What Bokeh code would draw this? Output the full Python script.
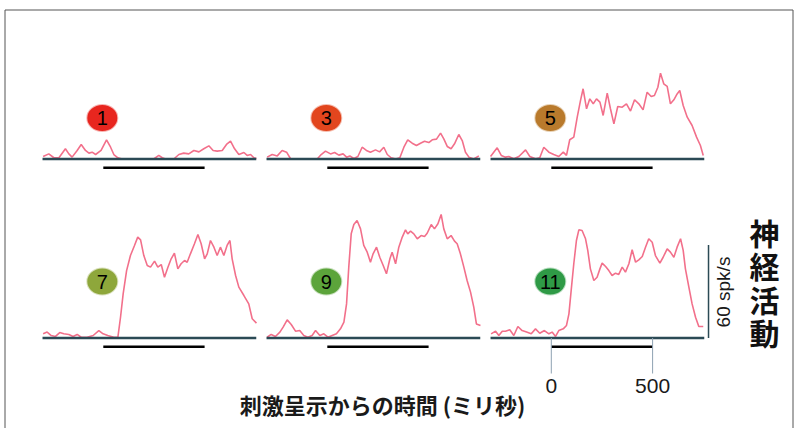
import math
from bokeh.plotting import figure
from bokeh.models import Range1d, ColumnDataSource
from bokeh.core.properties import value
from bokeh.embed import file_html
from bokeh.resources import INLINE

# ---------------- data ----------------
panel_labels = ["1", "3", "5", "7", "9", "11"]
panel_colors = ["#e8261f", "#e2461e", "#b97a2c", "#8ea73b", "#5ca43b", "#2f9a46"]

t1 = [-297, -269, -244, -219, -187, -170, -154, -129, -109, -88, -71, -55, -38, -11, 16, 36, 52, 72, 93,
      249, 274, 291, 307, 348, 373, 397, 422, 447, 472, 496, 521, 542, 562, 587, 608, 628, 648, 669, 694,
      710, 727, 743, 756]
v1 = [1.6, 3.3, 0.8, 0.8, 6.6, 3.3, 1.2, 5.5, 9.4, 5.5, 3.8, 4.4, 2.9, 5.5, 12.4, 7.6, 2.9, 0.8, 0,
      0, 2.3, 0.8, 0, 0, 2.9, 3.8, 3.3, 5.5, 4.6, 6.6, 8.5, 5.5, 5.1, 5.5, 9.4, 11.5, 6.6, 2.9, 4.2,
      2.3, 2.9, 0.8, 0.3]

t3 = [-297, -272, -247, -223, -201, -182, -165, -50, -30, -9, 16, 36, 57, 78, 95, 111, 131, 151, 172,
      193, 213, 238, 258, 279, 296, 315, 337, 358, 378, 397, 419, 440, 460, 480, 501, 518, 539, 559, 575,
      592, 611, 628, 649, 666, 682, 699, 723, 748]
v3 = [1.2, 2.9, 2.0, 5.5, 4.4, 0.3, 0, 0, 2.9, 5.1, 3.3, 4.2, 2.5, 3.3, 1.2, 2.0, 0.3, 1.6, 7.6,
      5.5, 4.4, 5.9, 4.6, 7.6, 2.9, 0.8, 0, 0.8, 7.6, 12.4, 10.2, 8.7, 10.2, 11.5, 10.6, 12.4, 12.8, 16.7, 13.0,
      8.1, 6.6, 9.8, 15.8, 11.9, 4.4, 1.2, 0, 2.0]

t5 = [-300, -267, -247, -226, -210, -185, -160, -127, -106, -78, -57, -37, -12, 12, 37, 59, 75, 91, 111,
      128, 144, 157, 174, 190, 207, 223, 240, 256, 276, 292, 309, 328, 350, 371, 391, 411, 432, 453, 473,
      493, 509, 526, 539, 555, 572, 588, 605, 621, 634, 651, 671, 695, 717, 736, 750]
v5 = [1.6, 7.2, 2.3, 1.2, 1.6, 0.1, 1.6, 5.9, 1.6, 0.1, 0.8, 7.6, 4.4, 2.9, 1.6, 4.4, 2.3, 12.4, 14.1,
      27.0, 37.7, 45.3, 32.4, 38.8, 35.6, 38.8, 36.7, 28.1, 42.5, 32.4, 22.7, 33.9, 33.4, 35.6, 30.9, 38.2, 35.6, 31.7, 43.1,
      40.3, 41.0, 46.3, 55.4, 48.5, 46.8, 35.6, 38.2, 42.0, 44.2, 34.5, 27.0, 21.6, 14.1, 8.7, 2.3]

t7 = [-297, -277, -257, -236, -215, -195, -170, -149, -129, -109, -80, -50, -22, -1, 22, 52, 72, 85, 98,
      115, 134, 154, 170, 184, 200, 217, 233, 253, 269, 286, 302, 319, 335, 351, 368, 384, 401, 414, 430,
      450, 467, 483, 500, 513, 529, 546, 562, 578, 595, 611, 625, 636, 653, 669, 694, 718, 735, 756]
v7 = [2.7, 3.8, 1.6, 1.0, 3.5, 2.7, 2.3, 1.0, 2.3, 0.5, 0.5, 1.6, 4.8, 2.7, 1.6, 0.5, 0.5, 13.4, 28.5,
      43.5, 53.2, 59.7, 65.1, 63.3, 53.2, 46.8, 45.7, 49.6, 45.7, 47.4, 39.2, 45.7, 51.1, 54.7, 44.6, 47.9, 50.0, 48.9, 54.3,
      60.8, 66.8, 60.8, 51.1, 54.3, 62.9, 58.6, 53.2, 58.6, 53.2, 59.7, 62.9, 51.1, 40.3, 32.8, 27.4, 22.0, 12.4, 9.6]

t9 = [-297, -277, -256, -234, -218, -198, -178, -157, -136, -116, -96, -75, -58, -37, -17, 3, 24, 45, 65,
      82, 95, 106, 118, 131, 147, 164, 180, 197, 213, 226, 243, 259, 276, 292, 309, 320, 337, 353, 370,
      386, 397, 411, 427, 444, 463, 480, 493, 513, 529, 546, 562, 575, 592, 611, 628, 641, 657, 674, 690,
      707, 723, 736, 756]
v9 = [0.5, 2.3, 1.0, 3.8, 7.0, 11.7, 8.7, 4.4, 4.8, 1.6, 0.5, 1.6, 4.8, 1.6, 2.7, 0.5, 1.6, 2.7, 5.9,
      10.2, 22.0, 45.7, 67.2, 73.2, 75.8, 70.4, 59.7, 55.4, 48.9, 54.3, 58.6, 52.1, 46.8, 41.4, 51.1, 55.4, 47.9, 58.6, 65.1,
      69.8, 67.2, 68.9, 67.2, 64.0, 66.1, 65.5, 67.6, 73.2, 70.4, 73.7, 79.7, 70.4, 64.0, 66.1, 62.5, 60.8, 54.3, 45.7, 37.1,
      29.6, 19.9, 9.1, 8.1]

t11 = [-297, -275, -259, -242, -226, -205, -185, -165, -144, -122, -99, -78, -57, -34, -12, 4, 21, 37, 59,
       75, 87, 98, 111, 124, 136, 152, 169, 180, 193, 210, 226, 240, 251, 268, 284, 300, 317, 333, 350,
       366, 383, 399, 416, 432, 449, 465, 481, 498, 514, 536, 552, 572, 588, 605, 621, 638, 651, 662, 679,
       695, 712, 728, 750]
v11 = [2.7, 4.4, 1.6, 4.4, 4.4, 5.3, 1.6, 7.4, 4.8, 3.8, 2.7, 5.9, 3.1, 4.8, 2.7, 3.8, 1.0, 4.8, 5.9,
       8.1, 15.6, 30.6, 47.9, 62.9, 69.8, 69.4, 64.0, 56.5, 44.6, 37.1, 39.2, 44.6, 48.3, 46.1, 43.5, 40.3, 41.8, 41.0, 45.7,
       42.5, 47.9, 56.9, 48.9, 50.4, 52.6, 58.6, 64.0, 61.8, 53.2, 48.3, 52.1, 57.5, 55.4, 52.1, 58.6, 64.0, 56.5, 44.6, 32.8,
       22.0, 13.4, 7.4, 7.4]

traces_t = [t1, t3, t5, t7, t9, t11]
traces_v = [v1, v3, v5, v7, v9, v11]

stim_on, stim_off = 0, 500
trace_start, trace_end = -300, 755
tick_values = [0, 500]
tick_labels = ["0", "500"]
scale_value = 60
scale_label = "60 spk/s"
y_title = "神経活動"
x_title = "刺激呈示からの時間 (ミリ秒)"

# ---------------- layout (reference pixel space) ----------------
W, H = 794, 428
zero_x = [102.8, 326.8, 550.8]
base_y = [158.5, 337.5]
PX_MS = 0.2026
PX_SPK = 1.55
circle_y = [117.5, 281.0]
stim_gap_px = 8.8
tick_len_px = 35.5
tick_label_px = 47.5
scale_x_ms = 776

TRACE = "#f2708b"
BASE = "#2b4a55"

p = figure(width=W, height=H, x_range=Range1d(0, W), y_range=Range1d(H, 0),
           output_backend="svg", toolbar_location=None, min_border=0,
           x_axis_type=None, y_axis_type=None)
p.grid.visible = False
p.outline_line_color = None
p.background_fill_color = "white"
p.border_fill_color = "white"

for c in range(3):
    p.extra_x_ranges[f"t{c}"] = Range1d((0 - zero_x[c]) / PX_MS, (W - zero_x[c]) / PX_MS)
for r in range(2):
    p.extra_y_ranges[f"r{r}"] = Range1d((base_y[r] - H) / PX_SPK, (base_y[r] - 0) / PX_SPK)

# frame border
p.segment(x0=[4.5, 4.5, W - 1.5], y0=[9.5, 9.5, 9.5],
          x1=[W - 1.5, 4.5, W - 1.5], y1=[9.5, H, H],
          line_color="#555555", line_width=1)

for i in range(6):
    r, c = divmod(i, 3)
    xr, yr = f"t{c}", f"r{r}"
    # stimulus bar
    p.segment(x0=[stim_on], x1=[stim_off], y0=[-stim_gap_px / PX_SPK], y1=[-stim_gap_px / PX_SPK],
              line_color="black", line_width=2.6, x_range_name=xr, y_range_name=yr)
    # trace
    p.line(traces_t[i], traces_v[i], line_color=TRACE, line_width=1.6,
           x_range_name=xr, y_range_name=yr)
    # baseline
    p.segment(x0=[trace_start], x1=[trace_end], y0=[0], y1=[0],
              line_color=BASE, line_width=2.6, x_range_name=xr, y_range_name=yr)

# time ticks on last panel
tick_src = ColumnDataSource(dict(x=tick_values, lab=tick_labels))
p.segment(x0="x", x1="x", y0=0, y1=-tick_len_px / PX_SPK, source=tick_src,
          line_color="#8ea2b2", line_width=1, x_range_name="t2", y_range_name="r1")
p.text(x="x", y=-tick_label_px / PX_SPK, text="lab", source=tick_src,
       text_font=value("Liberation Sans"), text_font_size="21px", text_color="#1a1a1a",
       text_align="center", text_baseline="middle", x_range_name="t2", y_range_name="r1")

# scale bar
p.segment(x0=[scale_x_ms], x1=[scale_x_ms], y0=[0], y1=[scale_value],
          line_color=BASE, line_width=1.5, x_range_name="t2", y_range_name="r1")
p.text(x=[723], y=[291.5], text=[scale_label], angle=math.pi / 2,
       text_font=value("Liberation Sans"), text_font_size="19px", text_color="#1a1a1a",
       text_align="center", text_baseline="middle")

# circles with condition numbers
cx = [zero_x[i % 3] - 1 for i in range(6)]
cy = [circle_y[i // 3] for i in range(6)]
csrc = ColumnDataSource(dict(x=cx, y=cy, col=panel_colors, lab=panel_labels))
p.ellipse(x="x", y="y", width=30, height=26, width_units="screen", height_units="screen",
          fill_color="col", line_color="col", line_alpha=0.35, line_width=2, source=csrc)
p.text(x="x", y="y", text="lab", source=csrc, text_font=value("Liberation Sans"),
       text_font_size="20px", text_color="black", text_align="center", text_baseline="middle")

# axis titles
p.text(x=[382], y=[403], text=[x_title], text_font=value("Noto Sans CJK JP"),
       text_font_size="22px", text_font_style="bold", text_color="#1a1a1a",
       text_align="center", text_baseline="middle")
chars = list(y_title)
p.text(x=[764] * len(chars), y=[231.5 + 33.3 * k for k in range(len(chars))], text=chars,
       text_font=value("Noto Sans CJK JP"), text_font_size="30px", text_font_style="bold",
       text_color="#111111", text_align="center", text_baseline="middle")

open("out.html", "w").write(file_html(p, INLINE))
